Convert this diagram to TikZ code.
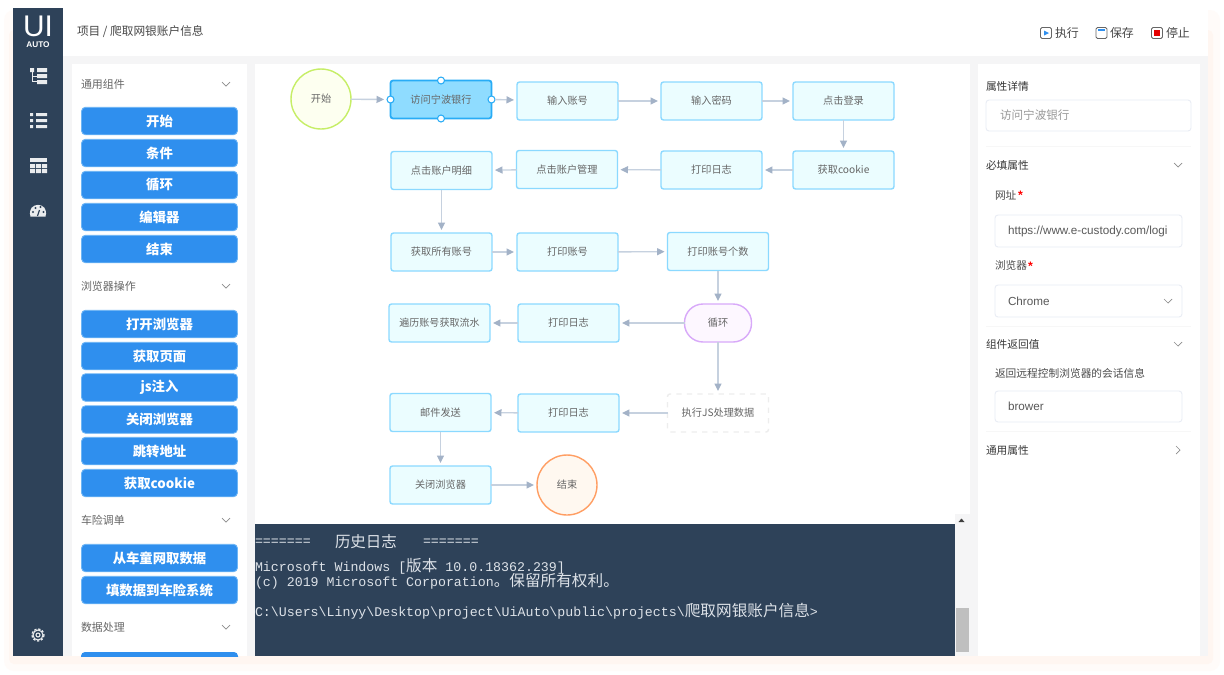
\documentclass[tikz,border=0pt]{standalone}
\usepackage{fontspec}
\setmainfont{Noto Sans CJK SC}
\newfontfamily\arialfont{Liberation Sans}
\newfontfamily\monofont{Liberation Mono}
\usetikzlibrary{arrows.meta}

\definecolor{navy}{HTML}{2E4259}
\definecolor{panelgray}{HTML}{F5F5F6}
\definecolor{glow}{HTML}{FFF6F1}
\definecolor{glowsoft}{HTML}{FFFBF9}
\definecolor{btnblue}{HTML}{2F8FEE}
\definecolor{btnedge}{HTML}{6DB5F5}
\definecolor{flowfill}{HTML}{EBFDFF}
\definecolor{flowedge}{HTML}{8BD9FF}
\definecolor{flowtext}{HTML}{666666}
\definecolor{wire}{HTML}{C6D1DF}
\definecolor{tipgray}{HTML}{A3B2C7}
\definecolor{fieldedge}{HTML}{E8ECF4}
\definecolor{termtext}{HTML}{DDE2E8}
\definecolor{selfill}{HTML}{8FDCFF}
\definecolor{seledge}{HTML}{28ACF6}
\definecolor{startedge}{HTML}{C6EE66}
\definecolor{startfill}{HTML}{FDFFF0}
\definecolor{endedge}{HTML}{FF9E63}
\definecolor{endfill}{HTML}{FFF8F0}
\definecolor{loopedge}{HTML}{D8A9F9}
\definecolor{loopfill}{HTML}{FDF7FF}

\newcommand{\tcjk}[1]{{\rmfamily\fontsize{8.9}{10}\selectfont #1}}

\begin{document}
\begin{tikzpicture}[
    x=0.02cm, y=-0.02cm,
    every node/.style={inner sep=0pt, outer sep=0pt},
    btn/.style={draw=btnedge, fill=btnblue, rounded corners=0.08cm, line width=0.5pt, minimum width=3.12cm, minimum height=0.55cm, text=white, font=\fontsize{7.6}{9}\selectfont\bfseries},
    group/.style={anchor=west, text=flowtext, font=\fontsize{6.25}{8}\selectfont},
    flow/.style={draw=flowedge, fill=flowfill, rounded corners=0.05cm, line width=0.8pt, minimum width=2.02cm, minimum height=0.76cm, text=flowtext, font=\fontsize{5.8}{8}\selectfont},
    flowcircle/.style={circle, line width=0.8pt, minimum size=1.2cm, text=flowtext, font=\fontsize{5.8}{8}\selectfont},
    wired/.style={draw=wire, line width=0.8pt, shorten >=0.06cm, -{Triangle[length=0.15cm, width=0.14cm, color=tipgray]}},
    handle/.style={circle, draw=seledge, fill=white, line width=0.6pt, minimum size=0.14cm},
    field/.style={draw=fieldedge, fill=white, rounded corners=0.06cm, line width=0.5pt},
    prop/.style={anchor=west, text=black!70, font=\fontsize{6.1}{8}\selectfont},
    action/.style={anchor=west, text=black!72, font=\fontsize{6.8}{8}\selectfont},
    proptext/.style={anchor=west, text=black!65, font=\arialfont\fontsize{6.65}{8}\selectfont},
    star/.style={anchor=west, text=red, font=\arialfont\fontsize{7}{8}\selectfont\bfseries},
    term/.style={anchor=west, text=termtext, font=\monofont\fontsize{7.55}{9}\selectfont},
    actionbox/.style={draw=black!60, rounded corners=0.03cm, line width=0.5pt},
    icon/.style={fill=white!90!navy},
    chevdown/.pic={\draw[black!45, line width=0.4pt] (-4,-2) -- (0,2) -- (4,-2);},
    chevright/.pic={\draw[black!45, line width=0.4pt] (-2,-4) -- (2,0) -- (-2,4);},
]

\useasboundingbox (0,0) rectangle (1224,674);

% Page, glow and the main gray ground
\fill[white] (0,0) rectangle (1224,674);
\fill[glowsoft, rounded corners=0.2cm] (4,10) rectangle (1220,671);
\fill[glow, rounded corners=0.1cm] (9,30) rectangle (1213,664);
\fill[panelgray] (13,8) rectangle (1208,656);
\fill[white] (63,8) rectangle (1208,56);
\fill[white] (72,64) rectangle (247,656);
\fill[white] (255,64) rectangle (970,524);
\fill[white] (978,64) rectangle (1200,656);
\fill[navy] (13,8) rectangle (63,656);

% Sidebar logo and icons
\node[text=white, font=\arialfont\fontsize{17}{17}\selectfont] (logo) at (38,26) {UI};
\node[text=white, font=\arialfont\fontsize{4.7}{5}\selectfont\bfseries] (logosub) at (38,44.5) {AUTO};
\fill[icon] (30,68) rectangle (34,72) (37,68) rectangle (47,72) (37,74) rectangle (47,78) (37,80) rectangle (47,84);
\draw[white!90!navy, line width=0.5pt] (32,72) -- (32,81) -- (37,81) (32,76) -- (37,76);
\fill[icon] (30,113) rectangle (33,116) (36,113) rectangle (47,116) (30,119) rectangle (33,122) (36,119) rectangle (47,122) (30,125) rectangle (33,128) (36,125) rectangle (47,128);
\fill[icon] (30,158) rectangle (47,162);
\fill[icon] (30,164) rectangle (35,168) (36,164) rectangle (41,168) (42,164) rectangle (47,168) (30,169) rectangle (35,173) (36,169) rectangle (41,173) (42,169) rectangle (47,173);
\fill[icon] (30.5,216.5) .. controls (26,201) and (50,201) .. (45.5,216.5) -- cycle;
\fill[navy] (33,212) circle[radius=1.2] (35.5,208) circle[radius=1.2] (40.5,207) circle[radius=1.2] (43.5,212) circle[radius=1.2];
\draw[navy, line width=0.7pt] (37.5,216) -- (39.5,210);
\draw[white!90!navy, line width=0.7pt, dash pattern=on 1.3pt off 1pt] (38,635) circle[radius=6];
\draw[white!90!navy, line width=0.6pt] (38,635) circle[radius=5] (38,635) circle[radius=2];

% Header
\node[anchor=west, text=black!72, font=\fontsize{6.65}{8}\selectfont] (crumb) at (77,31.5) {项目 / 爬取网银账户信息};
\draw[actionbox] (1040.5,27.5) rectangle (1051.5,38.5);
\fill[btnblue] (1044,30.5) -- (1049,33) -- (1044,35.5) -- cycle;
\node[action] (runlabel) at (1055,33) {执行};
\draw[actionbox] (1096,27.5) rectangle (1107,38.5);
\fill[btnblue] (1098,28.5) rectangle (1105,31);
\node[action] (savelabel) at (1110,33) {保存};
\draw[actionbox] (1151.5,27.5) rectangle (1162.5,38.5);
\fill[red!90!black] (1154,30) rectangle (1160,36);
\node[action] (stoplabel) at (1166,33) {停止};

% Left panel: general components
\node[group] (general) at (81,84) {通用组件};
\pic at (226,84) {chevdown};
\node[btn] (bstart) at (159.5,121) {开始};
\node[btn] (bcond) at (159.5,153) {条件};
\node[btn] (bloop) at (159.5,185) {循环};
\node[btn] (bedit) at (159.5,217) {编辑器};
\node[btn] (bend) at (159.5,249) {结束};

% Left panel: browser actions
\node[group] (browser) at (81,286) {浏览器操作};
\pic at (226,286) {chevdown};
\node[btn] (bopen) at (159.5,324) {打开浏览器};
\node[btn] (bpage) at (159.5,356) {获取页面};
\node[btn] (bjs) at (159.5,387.5) {js注入};
\node[btn] (bclose) at (159.5,419.5) {关闭浏览器};
\node[btn] (bjump) at (159.5,451) {跳转地址};
\node[btn] (bcookie) at (159.5,483) {获取cookie};

% Left panel: insurance and data
\node[group] (insure) at (81,520) {车险调单};
\pic at (226,520) {chevdown};
\node[btn] (bfetch) at (159.5,558) {从车童网取数据};
\node[btn] (bfill) at (159.5,590) {填数据到车险系统};
\node[group] (dataproc) at (81,627) {数据处理};
\pic at (226,627) {chevdown};
\begin{scope}
    \clip (72,640) rectangle (247,656);
    \fill[btnblue, rounded corners=0.08cm] (81,652) rectangle (238,680);
\end{scope}

% Flow chart nodes
\node[flowcircle, draw=startedge, fill=startfill] (start) at (321,99) {开始};
\node[flow, draw=seledge, fill=selfill, line width=1pt] (visit) at (441,99.5) {访问宁波银行};
\node[flow] (account) at (567.5,101) {输入账号};
\node[flow] (password) at (711.5,101) {输入密码};
\node[flow] (login) at (843.5,101) {点击登录};
\node[flow] (cookie) at (843.5,170) {获取cookie};
\node[flow] (logone) at (711.5,170) {打印日志};
\node[flow] (manage) at (567,169.5) {点击账户管理};
\node[flow] (detail) at (441.5,170.5) {点击账户明细};
\node[flow] (allacc) at (441.5,252) {获取所有账号};
\node[flow] (printacc) at (567.5,252) {打印账号};
\node[flow] (printnum) at (718,251.5) {打印账号个数};
\node[draw=loopedge, fill=loopfill, rounded corners=0.37cm, line width=0.8pt, minimum width=1.34cm, minimum height=0.76cm, text=flowtext, font=\fontsize{5.8}{8}\selectfont] (loop) at (718,323) {循环};
\node[flow, font=\fontsize{5.7}{8}\selectfont] (walk) at (439.5,323) {遍历账号获取流水};
\node[flow] (logtwo) at (568.5,323) {打印日志};
\node[flow, draw=black!7, fill=white, dashed] (jsrun) at (718,413) {执行JS处理数据};
\node[flow] (logthree) at (568.5,413) {打印日志};
\node[flow] (mail) at (440.5,412.5) {邮件发送};
\node[flow] (closeb) at (440.5,485) {关闭浏览器};
\node[flowcircle, draw=endedge, fill=endfill] (finish) at (567,485) {结束};

% Handles of the selected node
\node[handle] (hleft) at (visit.west) {};
\node[handle] (hright) at (visit.east) {};
\node[handle] (htop) at (visit.north) {};
\node[handle] (hbottom) at (visit.south) {};

% Flow chart connectors
\draw[wired] (start) -- (hleft);
\draw[wired] (hright) -- (account);
\draw[wired] (account) -- (password);
\draw[wired] (password) -- (login);
\draw[wired] (login) -- (cookie);
\draw[wired] (cookie) -- (logone);
\draw[wired] (logone) -- (manage);
\draw[wired] (manage) -- (detail);
\draw[wired] (detail) -- (allacc);
\draw[wired] (allacc) -- (printacc);
\draw[wired] (printacc) -- (printnum);
\draw[wired] (printnum) -- (loop);
\draw[wired] (loop) -- (logtwo);
\draw[wired] (logtwo) -- (walk);
\draw[wired] (loop) -- (jsrun);
\draw[wired] (jsrun) -- (logthree);
\draw[wired] (logthree) -- (mail);
\draw[wired] (mail) -- (closeb);
\draw[wired] (closeb) -- (finish);

% Terminal and its scrollbar
\fill[navy] (255,524) rectangle (955,656);
\fill[panelgray] (955,514) rectangle (970,656);
\fill[black!25] (956,608) rectangle (969,652);
\fill[black!75] (958.5,522) -- (964.5,522) -- (961.5,518.5) -- cycle;
\node[term] (ruleleft) at (255,542.5) {=======};
\node[term, font=\fontsize{8.8}{10}\selectfont] (histlog) at (335,542) {历史日志};
\node[term] (ruleright) at (423,542.5) {=======};
\node[term] (winver) at (255,566) {Microsoft Windows [\tcjk{版本} 10.0.18362.239]};
\node[term] (copyr) at (255,581) {(c) 2019 Microsoft Corporation\tcjk{。保留所有权利。}};
\node[term] (prompt) at (255,611) {C:\textbackslash Users\textbackslash Linyy\textbackslash Desktop\textbackslash project\textbackslash UiAuto\textbackslash public\textbackslash projects\textbackslash\tcjk{爬取网银账户信息}>};

% Right panel
\node[prop, text=black!80] (details) at (986,86) {属性详情};
\node[field, minimum width=4.1cm, minimum height=0.62cm] (namebox) at (1088.5,115.5) {};
\node[prop, text=black!40, font=\fontsize{6.6}{8}\selectfont] (nametext) at (1000,115.5) {访问宁波银行};
\draw[black!3] (986,146) -- (1191,146);
\node[prop, text=black!78] (required) at (986,165) {必填属性};
\pic at (1178,165) {chevdown};
\node[prop] (urllabel) at (995,195) {网址};
\node[star] (urlstar) at (1018,195) {*};
\node[field, minimum width=3.74cm, minimum height=0.64cm] (urlbox) at (1088.5,231) {};
\node[proptext] (urltext) at (1008,231) {https://www.e-custody.com/logi};
\node[prop] (brlabel) at (995,265) {浏览器};
\node[star] (brstar) at (1028,266) {*};
\node[field, minimum width=3.74cm, minimum height=0.64cm] (brbox) at (1088.5,301) {};
\node[proptext] (brtext) at (1008,301) {Chrome};
\pic at (1168,301) {chevdown};
\draw[black!3] (986,326) -- (1191,326);
\node[prop, text=black!78] (retval) at (986,344) {组件返回值};
\pic at (1178,344) {chevdown};
\node[prop] (retnote) at (995,373) {返回远程控制浏览器的会话信息};
\node[field, minimum width=3.74cm, minimum height=0.62cm] (retbox) at (1088.5,406.5) {};
\node[proptext] (rettext) at (1008,406) {brower};
\draw[black!3] (986,431) -- (1191,431);
\node[prop, text=black!78] (common) at (986,450) {通用属性};
\pic at (1178,450) {chevright};

\end{tikzpicture}
\end{document}
